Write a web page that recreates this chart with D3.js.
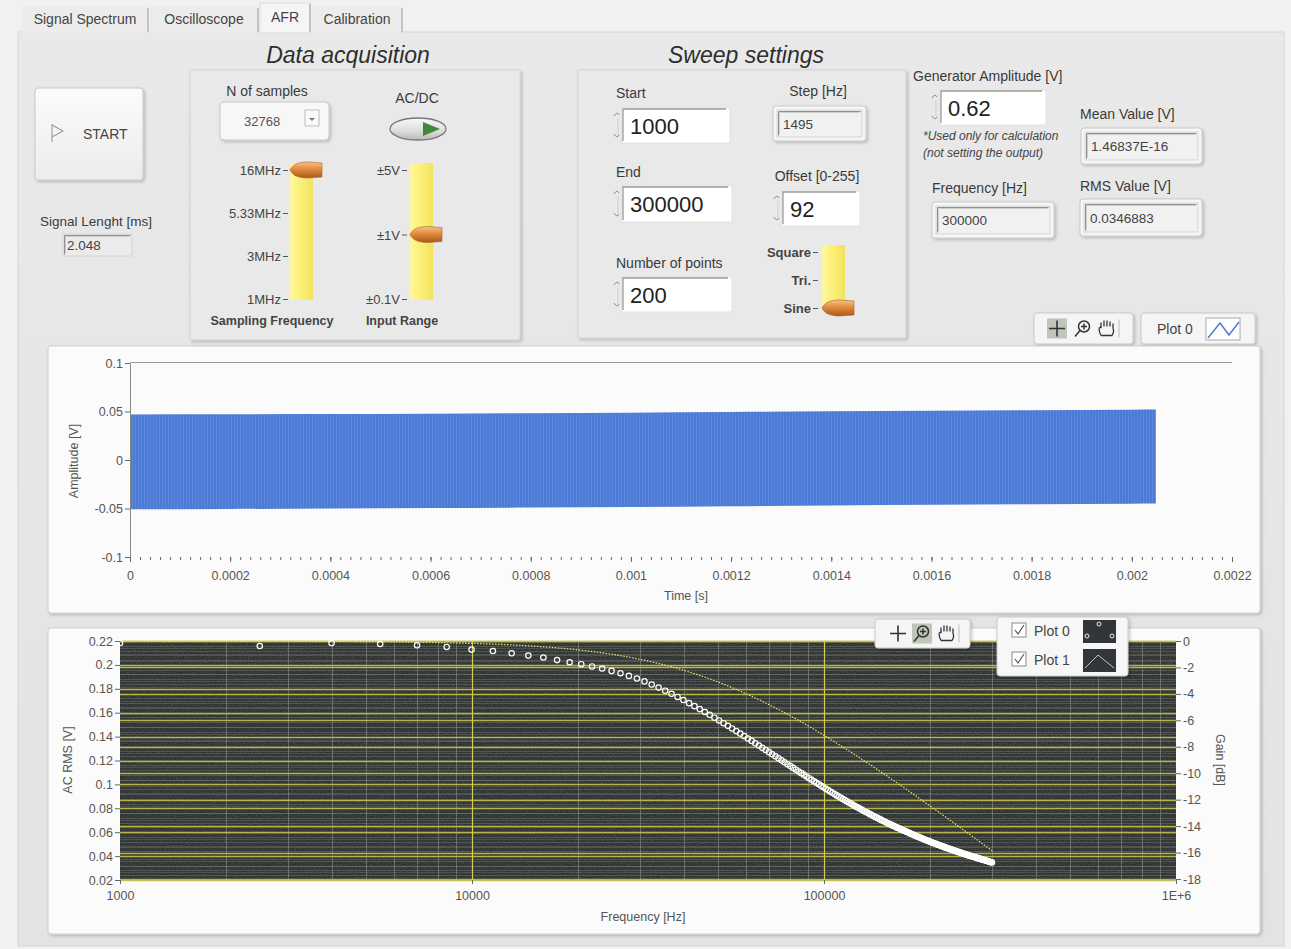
<!DOCTYPE html>
<html><head><meta charset="utf-8">
<script src="https://cdn.jsdelivr.net/npm/d3@7"></script>
<style>
html,body{margin:0;padding:0;background:#f1f1f1;overflow:hidden;}
svg{display:block;font-family:"Liberation Sans",Arial,sans-serif;}
</style></head><body>
<svg id="c" width="1291" height="949"></svg>
<script>
// ---------------- DATA ----------------
const tabs = ["Signal Spectrum","Oscilloscope","AFR","Calibration"];
const samplingLabels = ["16MHz","5.33MHz","3MHz","1MHz"];
const samplingSelected = "16MHz";
const rangeLabels = ["±5V","±1V","±0.1V"];
const rangeSelected = "±1V";
const waveLabels = ["Square","Tri.","Sine"];
const waveSelected = "Sine";

const nSamples = "32768";
const signalLength = "2.048";
const sweepStart = 1000, sweepEnd = 300000, sweepStep = 1495, sweepPointsSetting = 200, sweepOffset = 92;
const generatorAmplitude = "0.62";
const meanValue = "1.46837E-16";
const currentFrequency = "300000";
const rmsValue = "0.0346883";

// upper chart (time signal)
const timeTicks = [0,0.0002,0.0004,0.0006,0.0008,0.001,0.0012,0.0014,0.0016,0.0018,0.002,0.0022];
const timeTickLabels = ["0","0.0002","0.0004","0.0006","0.0008","0.001","0.0012","0.0014","0.0016","0.0018","0.002","0.0022"];
const ampTicks = [0.1,0.05,0,-0.05,-0.1];
const ampTickLabels = ["0.1","0.05","0","-0.05","-0.1"];
// envelope of the 300 kHz sine
const envTime  = [0,0.0002,0.0004,0.0006,0.0008,0.001,0.0012,0.0014,0.0016,0.0018,0.002,0.002048];
const envUpper = [0.0470,0.0472,0.0475,0.0478,0.0482,0.0488,0.0495,0.0502,0.0508,0.0513,0.0518,0.0520];
const envLower = [-0.0508,-0.0505,-0.0500,-0.0496,-0.0490,-0.0484,-0.0476,-0.0468,-0.0462,-0.0456,-0.0450,-0.0448];

// lower chart (frequency response)
const freqTicks = [1000,10000,100000,1000000];
const freqTickLabels = ["1000","10000","100000","1E+6"];
const rmsTicks = [0.22,0.2,0.18,0.16,0.14,0.12,0.1,0.08,0.06,0.04,0.02];
const rmsTickLabels = ["0.22","0.2","0.18","0.16","0.14","0.12","0.1","0.08","0.06","0.04","0.02"];
const gainTicks = [0,-2,-4,-6,-8,-10,-12,-14,-16,-18];
const gainTickLabels = ["0","-2","-4","-6","-8","-10","-12","-14","-16","-18"];

// sweep frequencies: Start 1000 Hz, Step 1495 Hz, up to End 300000 Hz
const freqHz = d3.range(sweepStart, sweepEnd + 1, sweepStep);

const acRms = [
0.2183,0.2158,0.2183,0.2175,0.2164,0.2150,0.2128,0.2116,0.2097,0.2078,
0.2062,0.2040,0.2022,0.2006,0.1987,0.1970,0.1950,0.1930,0.1908,0.1886,
0.1862,0.1836,0.1810,0.1784,0.1758,0.1732,0.1706,0.1680,0.1655,0.1630,
0.1606,0.1582,0.1558,0.1535,0.1512,0.1490,0.1468,0.1446,0.1425,0.1404,
0.1384,0.1364,0.1344,0.1325,0.1306,0.1288,0.1270,0.1252,0.1235,0.1218,
0.1201,0.1185,0.1169,0.1153,0.1138,0.1123,0.1108,0.1094,0.1080,0.1066,
0.1052,0.1039,0.1026,0.1013,0.1001,0.0988,0.0976,0.0964,0.0953,0.0941,
0.0930,0.0919,0.0908,0.0898,0.0888,0.0878,0.0868,0.0858,0.0849,0.0840,
0.0830,0.0821,0.0813,0.0804,0.0796,0.0787,0.0779,0.0771,0.0764,0.0756,
0.0749,0.0741,0.0734,0.0727,0.0720,0.0714,0.0707,0.0700,0.0694,0.0688,
0.0681,0.0675,0.0669,0.0663,0.0657,0.0652,0.0646,0.0640,0.0635,0.0630,
0.0624,0.0619,0.0614,0.0609,0.0604,0.0599,0.0594,0.0589,0.0585,0.0580,
0.0575,0.0571,0.0566,0.0562,0.0558,0.0553,0.0549,0.0545,0.0541,0.0537,
0.0533,0.0529,0.0525,0.0522,0.0518,0.0514,0.0510,0.0507,0.0503,0.0500,
0.0496,0.0493,0.0490,0.0486,0.0483,0.0480,0.0477,0.0473,0.0470,0.0467,
0.0464,0.0461,0.0458,0.0455,0.0452,0.0450,0.0447,0.0444,0.0441,0.0438,
0.0436,0.0433,0.0430,0.0428,0.0425,0.0423,0.0420,0.0418,0.0415,0.0413,
0.0410,0.0408,0.0406,0.0403,0.0401,0.0399,0.0396,0.0394,0.0392,0.0390,
0.0388,0.0385,0.0383,0.0381,0.0379,0.0377,0.0375,0.0373,0.0371,0.0369,
0.0367,0.0365,0.0363,0.0361,0.0359,0.0357,0.0355,0.0353,0.0351,0.0349,
0.0347];

const gainDb = [
0,-0.01,-0.03,-0.05,-0.09,-0.13,-0.18,-0.23,-0.29,-0.36,
-0.44,-0.52,-0.60,-0.70,-0.79,-0.89,-1.00,-1.11,-1.22,-1.34,
-1.45,-1.58,-1.70,-1.82,-1.95,-2.08,-2.21,-2.34,-2.47,-2.60,
-2.73,-2.86,-3.00,-3.13,-3.26,-3.39,-3.53,-3.66,-3.79,-3.92,
-4.05,-4.18,-4.31,-4.43,-4.56,-4.69,-4.81,-4.94,-5.06,-5.18,
-5.30,-5.42,-5.54,-5.66,-5.78,-5.89,-6.01,-6.12,-6.24,-6.35,
-6.46,-6.57,-6.68,-6.79,-6.90,-7.00,-7.11,-7.21,-7.32,-7.42,
-7.52,-7.62,-7.72,-7.82,-7.92,-8.01,-8.11,-8.21,-8.30,-8.39,
-8.49,-8.58,-8.67,-8.76,-8.85,-8.94,-9.03,-9.11,-9.20,-9.29,
-9.37,-9.46,-9.54,-9.62,-9.70,-9.79,-9.87,-9.95,-10.03,-10.11,
-10.18,-10.26,-10.34,-10.42,-10.49,-10.57,-10.64,-10.72,-10.79,-10.86,
-10.93,-11.01,-11.08,-11.15,-11.22,-11.29,-11.36,-11.43,-11.49,-11.56,
-11.63,-11.70,-11.76,-11.83,-11.89,-11.96,-12.02,-12.09,-12.15,-12.21,
-12.28,-12.34,-12.40,-12.46,-12.52,-12.59,-12.65,-12.71,-12.76,-12.82,
-12.88,-12.94,-13.00,-13.06,-13.11,-13.17,-13.23,-13.28,-13.34,-13.40,
-13.45,-13.50,-13.56,-13.61,-13.67,-13.72,-13.77,-13.83,-13.88,-13.93,
-13.98,-14.04,-14.09,-14.14,-14.19,-14.24,-14.29,-14.34,-14.39,-14.44,
-14.49,-14.54,-14.59,-14.64,-14.68,-14.73,-14.78,-14.83,-14.87,-14.92,
-14.97,-15.01,-15.06,-15.11,-15.15,-15.20,-15.24,-15.29,-15.33,-15.38,
-15.42,-15.47,-15.51,-15.55,-15.60,-15.64,-15.68,-15.73,-15.77,-15.81,
-15.86];

const legendUpper = ["Plot 0"];
const legendLower = ["Plot 0","Plot 1"];

// ---------------- DRAWING ----------------
const svg = d3.select("#c");
const defs = svg.append("defs");
const TXT = "#3a3a3a";

function grad(id, stops, x2=0, y2=1){
  const g = defs.append("linearGradient").attr("id",id).attr("x1",0).attr("y1",0).attr("x2",x2).attr("y2",y2);
  stops.forEach(s=>g.append("stop").attr("offset",s[0]).attr("stop-color",s[1]));
}
grad("gBtn",[[0,"#fbfbfb"],[1,"#ececec"]]);
grad("gThumb",[[0,"#f7c48a"],[0.45,"#e08a3c"],[1,"#a9581d"]]);
grad("gSlide",[[0,"#fff7a0"],[0.5,"#fbef74"],[1,"#f3e160"]],1,0);
grad("gToggle",[[0,"#fafafa"],[0.6,"#dcdcdc"],[1,"#b8b8b8"]]);
grad("gPanel",[[0,"#e9e9e9"],[1,"#e3e3e3"]]);
const sh = defs.append("filter").attr("id","shadow").attr("x","-10%").attr("y","-10%").attr("width","130%").attr("height","130%");
sh.append("feDropShadow").attr("dx",1.5).attr("dy",1.5).attr("stdDeviation",1.5).attr("flood-color","#000").attr("flood-opacity",0.22);
const nz = defs.append("filter").attr("id","noise").attr("x",0).attr("y",0).attr("width","100%").attr("height","100%");
nz.append("feTurbulence").attr("type","fractalNoise").attr("baseFrequency","0.6 0.9").attr("numOctaves",2).attr("seed",3);
nz.append("feColorMatrix").attr("type","matrix").attr("values","0 0 0 0 0.55  0 0 0 0 0.6  0 0 0 0 0.7  0 0 0 0.6 -0.15");
const pat = defs.append("pattern").attr("id","stripes").attr("width",3).attr("height",10).attr("patternUnits","userSpaceOnUse");
pat.append("rect").attr("x",0).attr("y",0).attr("width",1).attr("height",10).attr("fill","rgba(255,255,255,0.10)");

// background / tab panel
svg.append("rect").attr("width",1291).attr("height",949).attr("fill","#f1f1f1");
svg.append("rect").attr("x",18).attr("y",32).attr("width",1266).attr("height",914).attr("fill","url(#gPanel)").attr("stroke","#d6d6d6");

// tabs
const tabX = [22,150,260,312,404];
const tg = svg.append("g");
tabs.forEach((t,i)=>{
  const active = t==="AFR";
  const x0 = tabX[i], x1 = tabX[i+1]-2;
  tg.append("rect").attr("x",x0).attr("y",active?3:6).attr("width",x1-x0).attr("height",active?30:27)
    .attr("fill",active?"#f5f5f5":"#ececec").attr("stroke",active?"#dddddd":"none");
  tg.append("line").attr("x1",x1).attr("x2",x1).attr("y1",active?4:8).attr("y2",32).attr("stroke","#9a9a9a");
  tg.append("text").attr("x",(x0+x1)/2).attr("y",active?22:24).attr("text-anchor","middle")
    .attr("font-size",14).attr("fill","#444").text(t);
});

let ui = svg.append("g");
function text(x,y,s,o={}){
  return ui.append("text").attr("x",x).attr("y",y).attr("font-size",o.size||13.5)
    .attr("fill",o.fill||TXT).attr("text-anchor",o.anchor||"start")
    .attr("font-style",o.italic?"italic":null).attr("font-weight",o.bold?"bold":null).text(s);
}
function raisedBox(x,y,w,h,o={}){
  (o.parent||ui).append("rect").attr("x",x).attr("y",y).attr("width",w).attr("height",h).attr("rx",o.rx==null?3:o.rx)
    .attr("fill",o.fill||"url(#gBtn)").attr("stroke",o.stroke||"#c9c9c9").attr("filter",o.shadow===false?null:"url(#shadow)");
}
function sunkenField(x,y,w,h,fill){
  ui.append("rect").attr("x",x).attr("y",y).attr("width",w).attr("height",h).attr("fill",fill||"#fff").attr("stroke","#d4d4d4");
  ui.append("path").attr("d",`M${x+1.5},${y+h-1.5}V${y+1.5}H${x+w-1.5}`).attr("stroke","#8f8f8f").attr("fill","none").attr("stroke-width",1);
  ui.append("path").attr("d",`M${x+2.5},${y+h-2.5}V${y+2.5}H${x+w-2.5}`).attr("stroke","#cfcfcf").attr("fill","none").attr("stroke-width",1);
}
function indicator(x,y,w,h,val){
  raisedBox(x,y,w,h,{fill:"#f6f6f6",rx:3});
  sunkenField(x+4,y+4,w-8,h-8,"#f1f1f1");
  text(x+10,y+h/2+5,val,{size:13.5,fill:"#444"});
}
function control(x,y,w,h,val,size){
  ui.append("rect").attr("x",x).attr("y",y).attr("width",w).attr("height",h).attr("fill","#fff").attr("stroke","#e2e2e2");
  ui.append("path").attr("d",`M${x+1},${y+h-2}V${y+1}H${x+w-4}`).attr("stroke","#9b9b9b").attr("fill","none").attr("stroke-width",1.3);
  ui.append("path").attr("d",`M${x-8},${y+8} q3,-5 5,-1`).attr("stroke","#888").attr("fill","none");
  ui.append("path").attr("d",`M${x-8},${y+h-9} q3,5 5,1`).attr("stroke","#888").attr("fill","none");
  ui.append("line").attr("x1",x-4).attr("x2",x-4).attr("y1",y+10).attr("y2",y+h-8).attr("stroke","#cfcfcf");
  text(x+8,y+h/2+8,val,{size:size||22,fill:"#222"});
}
function thumb(xTip,cy){
  const x1 = xTip+32;
  ui.append("path").attr("d",`M${xTip},${cy} C${xTip+3},${cy-6} ${xTip+9},${cy-8} ${xTip+18},${cy-8} L${x1},${cy-7} L${x1},${cy+7} L${xTip+18},${cy+8} C${xTip+9},${cy+8} ${xTip+3},${cy+6} ${xTip},${cy} Z`)
    .attr("fill","url(#gThumb)").attr("stroke","#a6652e").attr("stroke-width",0.6);
}
function slider(labels, selected, yTop, yBot, barX, labelRight, bold){
  const sc = d3.scalePoint().domain(labels).range([yTop,yBot]);
  ui.append("rect").attr("x",barX).attr("y",yTop-7).attr("width",23).attr("height",yBot-yTop+8).attr("fill","url(#gSlide)");
  labels.forEach(l=>{
    text(labelRight,sc(l)+5,l,{size:13,anchor:"end",fill:"#444",bold:bold});
    ui.append("line").attr("x1",labelRight+2).attr("x2",labelRight+7).attr("y1",sc(l)+0.5).attr("y2",sc(l)+0.5).attr("stroke","#555");
  });
  thumb(barX,sc(selected));
}

// ---- Data acquisition ----
text(348,63,"Data acquisition",{size:23,italic:true,anchor:"middle",fill:"#2e2e2e"});
raisedBox(190,70,330,270,{fill:"#e9e9e9",stroke:"#d2d2d2",rx:1});
raisedBox(35,88,108,92,{rx:3});
ui.append("path").attr("d","M52,124 V142 M52,125 L63,131 L52,137").attr("stroke","#9a9a9a").attr("fill","none").attr("stroke-width",1.1);
text(83,139,"START",{size:14,fill:"#444"});
text(96,226,"Signal Lenght [ms]",{size:13.5,anchor:"middle"});
sunkenField(63,234,69,22,"#ebebeb");
text(67,250,signalLength,{size:13.5,fill:"#444"});

text(267,96,"N of samples",{size:14,anchor:"middle"});
raisedBox(220,102,109,38,{fill:"#f7f7f7",rx:4});
text(244,126,nSamples,{size:13,fill:"#555"});
ui.append("rect").attr("x",305).attr("y",110).attr("width",14).attr("height",16).attr("fill","#fafafa").attr("stroke","#bdbdbd");
ui.append("path").attr("d","M309,118 h6 l-3,3 z").attr("fill","#777");

text(417,103,"AC/DC",{size:14,anchor:"middle"});
ui.append("ellipse").attr("cx",418).attr("cy",129).attr("rx",28).attr("ry",11).attr("fill","url(#gToggle)").attr("stroke","#777").attr("stroke-width",1.3);
ui.append("path").attr("d","M423,122 L440,129 L423,136 Z").attr("fill","#3e8a3a");

slider(samplingLabels, samplingSelected, 170, 299, 290, 281, false);
slider(rangeLabels, rangeSelected, 170, 299, 410, 400, false);
text(272,325,"Sampling Frequency",{size:12.5,bold:true,anchor:"middle",fill:"#444"});
text(402,325,"Input Range",{size:12.5,bold:true,anchor:"middle",fill:"#444"});

// ---- Sweep settings ----
text(746,63,"Sweep settings",{size:23,italic:true,anchor:"middle",fill:"#2e2e2e"});
raisedBox(578,70,328,268,{fill:"#e9e9e9",stroke:"#d2d2d2",rx:1});
text(616,98,"Start",{size:14});
control(622,108,108,35,String(sweepStart));
text(616,177,"End",{size:14});
control(622,186,110,36,String(sweepEnd));
text(616,268,"Number of points",{size:14});
control(622,277,110,35,String(sweepPointsSetting));
text(818,96,"Step [Hz]",{size:14,anchor:"middle"});
indicator(773,106,93,35,String(sweepStep));
text(817,181,"Offset [0-255]",{size:14,anchor:"middle"});
control(782,191,78,35,String(sweepOffset));
slider(waveLabels, waveSelected, 252, 308, 822, 811, true);

// ---- generator / values ----
text(913,81,"Generator  Amplitude [V]",{size:14});
control(940,90,106,35,generatorAmplitude);
text(923,140,"*Used only for calculation",{size:12,italic:true,fill:"#444"});
text(923,157,"(not setting the output)",{size:12,italic:true,fill:"#444"});
text(1080,119,"Mean Value  [V]",{size:14});
indicator(1081,128,121,36,meanValue);
text(932,193,"Frequency [Hz]",{size:14});
indicator(932,202,122,36,currentFrequency);
text(1080,191,"RMS Value  [V]",{size:14});
indicator(1080,199,122,37,rmsValue);

// graph palettes
function palette(x,y,w,h,icons,activeIdx){
  raisedBox(x,y,w,h,{fill:"#f5f5f5",rx:3});
  icons.forEach((cx,i)=>{
    const cy = y+h/2;
    if(i===activeIdx) ui.append("rect").attr("x",cx-10).attr("y",cy-10).attr("width",20).attr("height",20).attr("fill","#aab0a0").attr("opacity",0.7);
    if(i===0){
      ui.append("path").attr("d",`M${cx-8},${cy} H${cx+8} M${cx},${cy-8} V${cy+8}`).attr("stroke","#333").attr("stroke-width",1.6);
    } else if(i===1){
      ui.append("circle").attr("cx",cx+1).attr("cy",cy-2).attr("r",5.5).attr("fill","none").attr("stroke","#333").attr("stroke-width",1.5);
      ui.append("path").attr("d",`M${cx-3},${cy+2} L${cx-8},${cy+8} M${cx-2},${cy-2} h6 M${cx+1},${cy-5} v6`).attr("stroke","#333").attr("stroke-width",1.5);
    } else {
      ui.append("path").attr("d",`M${cx-6},${cy+7} C${cx-9},${cy+1} ${cx-8},${cy-2} ${cx-6},${cy-1} V${cy-6} M${cx-3},${cy-2} V${cy-8} M${cx},${cy-2} V${cy-8} M${cx+3},${cy-2} V${cy-7} M${cx+6},${cy} V${cy-5} M${cx-6},${cy+7} H${cx+5} C${cx+7},${cy+4} ${cx+7},${cy+2} ${cx+6},${cy}`)
        .attr("stroke","#333").attr("stroke-width",1.3).attr("fill","none");
      ui.append("line").attr("x1",cx+12).attr("x2",cx+12).attr("y1",cy-9).attr("y2",cy+9).attr("stroke","#bbb");
    }
  });
}
palette(1034,313,99,31,[1057,1083,1107],0);
raisedBox(1141,313,114,31,{fill:"#f5f5f5",rx:3});
text(1157,334,legendUpper[0],{size:14,fill:"#444"});
ui.append("rect").attr("x",1206).attr("y",318).attr("width",34).attr("height",22).attr("fill","#fff").attr("stroke","#aaa");
ui.append("path").attr("d","M1208,338 L1220,323 L1229,335 L1239,322").attr("stroke","#4a78d0").attr("stroke-width",1.4).attr("fill","none");

// ---------------- CHART FRAMES ----------------
const frames = svg.append("g");
raisedBox(48,346,1212,267,{fill:"#fbfbfb",stroke:"#cfcfcf",rx:3,parent:frames});
raisedBox(48,628,1212,306,{fill:"#fbfbfb",stroke:"#cfcfcf",rx:3,parent:frames});

// ---------------- UPPER CHART ----------------
const up = svg.append("g");
const xT = d3.scaleLinear().domain([0,0.0022]).range([130,1232]);
const yA = d3.scaleLinear().domain([-0.1,0.1]).range([557,363]);
up.append("line").attr("x1",130).attr("x2",1232).attr("y1",362.5).attr("y2",362.5).attr("stroke","#9a9a9a");
const env = envTime.map((t,i)=>({t,u:envUpper[i],l:envLower[i]}));
const area = d3.area().x(d=>xT(d.t)).y0(d=>yA(d.l)).y1(d=>yA(d.u)).curve(d3.curveMonotoneX);
up.append("path").datum(env).attr("d",area).attr("fill","#4a79d6");
up.append("path").datum(env).attr("d",area).attr("fill","url(#stripes)");
const axL = up.append("g").attr("transform","translate(130,0)")
  .call(d3.axisLeft(yA).tickValues(ampTicks).tickFormat((d,i)=>ampTickLabels[i]).tickSize(5).tickPadding(2).tickSizeOuter(0));
const axB = up.append("g").attr("transform","translate(0,557)")
  .call(d3.axisBottom(xT).tickValues(timeTicks).tickFormat((d,i)=>timeTickLabels[i]).tickSize(5).tickPadding(9).tickSizeOuter(0));
axB.select(".domain").remove();
const minorT = d3.range(0,111).map(i=>i*0.00002).filter(v=>v<=0.0022+1e-9);
up.append("g").attr("transform","translate(0,557)")
  .call(d3.axisBottom(xT).tickValues(minorT).tickFormat("").tickSize(3).tickSizeOuter(0))
  .call(g=>g.select(".domain").remove());
[axL,axB].forEach(g=>{
  g.selectAll("text").attr("font-size",12.5).attr("fill","#555").attr("font-family","Liberation Sans, Arial");
  g.select(".domain").attr("stroke","#888");
});
up.selectAll("g.tick line").attr("stroke","#666");
up.append("text").attr("transform","translate(78,461) rotate(-90)").attr("text-anchor","middle").attr("font-size",12.5).attr("fill","#555").text("Amplitude [V]");
up.append("text").attr("x",686).attr("y",600).attr("text-anchor","middle").attr("font-size",12.5).attr("fill","#555").text("Time [s]");

// ---------------- LOWER CHART ----------------
const lo = svg.append("g");
const xF = d3.scaleLog().domain([1000,1e6]).range([120,1176]);
const yR = d3.scaleLinear().domain([0.02,0.22]).range([880,641]);
const yG = d3.scaleLinear().domain([-18,0]).range([879,641]);
lo.append("rect").attr("x",120).attr("y",641).attr("width",1056).attr("height",239).attr("fill","#2b2f2d");
lo.append("rect").attr("x",120).attr("y",641).attr("width",1056).attr("height",239).attr("filter","url(#noise)").attr("opacity",0.45);
const grid = lo.append("g");
const minorR = d3.range(0,51).map(i=>0.02+i*0.004);
const minorG = d3.range(0,37).map(i=>-18+i*0.5);
grid.selectAll("line.mr").data(minorR).join("line").attr("x1",120).attr("x2",1176)
  .attr("y1",d=>Math.round(yR(d))+0.5).attr("y2",d=>Math.round(yR(d))+0.5).attr("stroke","#8c948c").attr("stroke-opacity",0.32);
grid.selectAll("line.mg").data(minorG).join("line").attr("x1",120).attr("x2",1176)
  .attr("y1",d=>Math.round(yG(d))+0.5).attr("y2",d=>Math.round(yG(d))+0.5).attr("stroke","#8c948c").attr("stroke-opacity",0.28);
const minorF = [];
[1000,10000,100000].forEach(dec=>{for(let k=2;k<=9;k++) minorF.push(dec*k);});
grid.selectAll("line.vf").data(minorF).join("line").attr("y1",641).attr("y2",880)
  .attr("x1",d=>Math.round(xF(d))+0.5).attr("x2",d=>Math.round(xF(d))+0.5).attr("stroke","#b8bcb0").attr("stroke-opacity",0.38);
grid.selectAll("line.Mr").data(rmsTicks).join("line").attr("x1",120).attr("x2",1176)
  .attr("y1",d=>Math.round(yR(d))+0.5).attr("y2",d=>Math.round(yR(d))+0.5).attr("stroke","#c2be48").attr("stroke-width",1.4).attr("stroke-opacity",0.9);
grid.selectAll("line.Mg").data(gainTicks).join("line").attr("x1",120).attr("x2",1176)
  .attr("y1",d=>Math.round(yG(d))+0.5).attr("y2",d=>Math.round(yG(d))+0.5).attr("stroke","#c2be48").attr("stroke-width",1.4).attr("stroke-opacity",0.9);
grid.selectAll("line.Mf").data([10000,100000]).join("line").attr("y1",641).attr("y2",880)
  .attr("x1",d=>Math.round(xF(d))+0.5).attr("x2",d=>Math.round(xF(d))+0.5).attr("stroke","#d2cf55").attr("stroke-width",1.2);

const sweep = freqHz.map((f,i)=>({f,r:acRms[i],g:gainDb[i]}));
lo.append("path").datum(sweep).attr("d",d3.line().x(d=>xF(d.f)).y(d=>yG(d.g)))
  .attr("fill","none").attr("stroke","#e6e86a").attr("stroke-width",1.2).attr("stroke-dasharray","1.5,1.5");
lo.selectAll("circle.p0").data(sweep).join("circle").attr("cx",d=>xF(d.f)).attr("cy",d=>yR(d.r)).attr("r",2.7)
  .attr("fill","none").attr("stroke","#ffffff").attr("stroke-width",1.2);

const aL = lo.append("g").attr("transform","translate(120,0)")
  .call(d3.axisLeft(yR).tickValues(rmsTicks).tickFormat((d,i)=>rmsTickLabels[i]).tickSize(5).tickPadding(2).tickSizeOuter(0));
const aR = lo.append("g").attr("transform","translate(1176,0)")
  .call(d3.axisRight(yG).tickValues(gainTicks).tickFormat((d,i)=>gainTickLabels[i]).tickSize(5).tickPadding(2).tickSizeOuter(0));
const aB = lo.append("g").attr("transform","translate(0,880)")
  .call(d3.axisBottom(xF).tickValues(freqTicks).tickFormat((d,i)=>freqTickLabels[i]).tickSize(4).tickPadding(7).tickSizeOuter(0));
[aL,aR,aB].forEach(g=>{
  g.select(".domain").remove();
  g.selectAll("text").attr("font-size",12.5).attr("fill","#555").attr("font-family","Liberation Sans, Arial");
  g.selectAll("line").attr("stroke","#666");
});
lo.append("text").attr("transform","translate(72,760) rotate(-90)").attr("text-anchor","middle").attr("font-size",12.5).attr("fill","#555").text("AC RMS [V]");
lo.append("text").attr("transform","translate(1216,760) rotate(90)").attr("text-anchor","middle").attr("font-size",12.5).attr("fill","#555").text("Gain [dB]");
lo.append("text").attr("x",643).attr("y",921).attr("text-anchor","middle").attr("font-size",12.5).attr("fill","#555").text("Frequency [Hz]");

// lower palette + legend (on top of the chart)
ui = svg.append("g");
palette(875,619,95,29,[898,922,947],1);
raisedBox(997,617,131,59,{fill:"#f7f7f7",rx:3});
legendLower.forEach((p,i)=>{
  const y = 631 + i*29;
  ui.append("rect").attr("x",1012).attr("y",y-8).attr("width",14).attr("height",14).attr("fill","#fff").attr("stroke","#8a8a8a");
  ui.append("path").attr("d",`M${1015},${y-1} l3,4 l6,-9`).attr("stroke","#555").attr("fill","none").attr("stroke-width",1.2);
  text(1034,y+5,p,{size:14,fill:"#444"});
  ui.append("rect").attr("x",1083).attr("y",y-11).attr("width",33).attr("height",23).attr("fill","#32363a");
  if(i===0){
    [[1099,y-7],[1087,y+5],[1112,y+5]].forEach(c=>ui.append("circle").attr("cx",c[0]).attr("cy",c[1]).attr("r",2).attr("fill","none").attr("stroke","#eee"));
  } else {
    ui.append("path").attr("d",`M1085,${y+8} L1098,${y-5} L1114,${y+8}`).attr("stroke","#c8c8b8").attr("fill","none");
  }
});
</script>
</body></html>
